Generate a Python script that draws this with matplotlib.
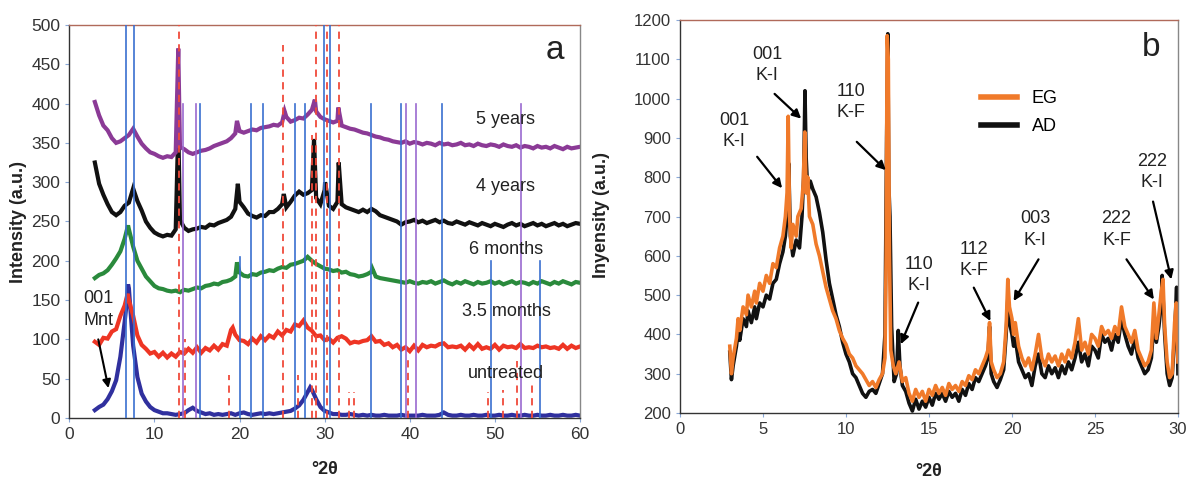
import numpy as np
import matplotlib
matplotlib.use("Agg")
import matplotlib.pyplot as plt

plt.rcParams['font.family'] = ['Liberation Sans', 'DejaVu Sans']

# === panel a : XRD patterns, 3-60 deg 2theta, 0.5 deg steps ===
two_theta_a = np.arange(3.0, 60.01, 0.5)

untreated = [10, 14, 17, 24, 34, 48, 78, 122, 165, 92,
             52, 31, 21, 14, 10, 8, 6, 6, 5, 4,
             5, 6, 10, 13, 9, 7, 5, 6, 4, 5,
             4, 5, 6, 4, 6, 7, 5, 4, 5, 6,
             5, 6, 5, 6, 7, 8, 9, 12, 16, 23,
             33, 36, 24, 14, 9, 7, 5, 5, 4, 4,
             5, 4, 3, 4, 3, 4, 3, 3, 4, 3,
             3, 3, 4, 3, 3, 3, 3, 4, 3, 3,
             3, 4, 7, 4, 3, 3, 4, 3, 3, 4,
             3, 3, 4, 3, 3, 4, 3, 3, 4, 3,
             3, 4, 3, 3, 4, 3, 3, 4, 3, 3,
             4, 3, 3, 4, 3]
months_3_5 = [97, 93, 102, 101, 110, 113, 130, 143, 150, 130,
              105, 93, 88, 82, 84, 78, 83, 77, 82, 78,
              84, 82, 88, 83, 90, 83, 89, 86, 92, 87,
              94, 92, 112, 106, 99, 98, 94, 101, 96, 104,
              99, 105, 102, 110, 105, 112, 110, 119, 117, 124,
              115, 111, 104, 105, 99, 101, 96, 102, 104, 101,
              95, 97, 96, 98, 99, 104, 97, 98, 93, 95,
              90, 93, 87, 90, 85, 92, 86, 93, 90, 92,
              91, 94, 95, 90, 91, 90, 92, 87, 93, 88,
              94, 88, 90, 88, 93, 87, 92, 90, 91, 89,
              94, 89, 90, 89, 92, 90, 91, 89, 90, 88,
              93, 88, 92, 89, 91]
months_6 = [178, 182, 184, 188, 195, 203, 212, 228, 240, 218,
            200, 190, 180, 174, 168, 165, 164, 162, 161, 162,
            160, 163, 162, 164, 166, 165, 168, 169, 171, 170,
            173, 174, 176, 180, 185, 181, 180, 183, 182, 185,
            186, 188, 187, 190, 192, 191, 195, 196, 198, 200,
            205, 200, 196, 193, 190, 189, 187, 188, 185, 186,
            183, 182, 180, 181, 183, 186, 180, 178, 177, 176,
            175, 174, 173, 172, 174, 172, 171, 173, 172, 174,
            171, 173, 175, 172, 170, 173, 171, 174, 172, 170,
            173, 171, 172, 174, 171, 173, 170, 172, 174, 171,
            173, 172, 170, 173, 171, 174, 172, 170, 173, 171,
            174, 172, 170, 173, 172]
years_4 = [325, 298, 284, 272, 262, 258, 262, 270, 274, 292,
           276, 264, 250, 242, 236, 233, 231, 233, 232, 240,
           252, 242, 238, 240, 241, 243, 242, 246, 245, 248,
           250, 252, 256, 266, 275, 268, 260, 257, 255, 258,
           257, 262, 262, 266, 272, 268, 275, 283, 288, 284,
           286, 290, 280, 272, 290, 270, 266, 275, 272, 268,
           266, 264, 262, 265, 262, 266, 263, 258, 256, 254,
           252, 250, 246, 249, 250, 252, 249, 251, 248, 250,
           252, 249, 251, 248, 247, 250, 248, 246, 249, 247,
           245, 248, 246, 244, 247, 245, 243, 246, 248, 245,
           247, 244, 246, 248, 245, 247, 244, 246, 248, 245,
           247, 244, 246, 248, 247]
years_5 = [402, 385, 372, 366, 356, 350, 352, 356, 360, 368,
           358, 349, 343, 338, 336, 333, 331, 333, 332, 338,
           345, 342, 338, 336, 338, 340, 341, 343, 346, 348,
           350, 352, 356, 362, 365, 363, 365, 367, 366, 369,
           370, 371, 373, 372, 376, 383, 377, 379, 382, 381,
           386, 392, 390, 383, 380, 378, 376, 378, 372, 370,
           368, 367, 365, 363, 362, 360, 358, 357, 355, 354,
           352, 351, 350, 352, 349, 351, 350, 348, 350, 349,
           347, 350, 348, 349, 347, 348, 350, 347, 348, 346,
           349, 347, 346, 348, 347, 345, 348, 346, 345, 347,
           344, 346, 345, 343, 346, 344, 345, 343, 346, 344,
           342, 345, 343, 344, 345]

# sharp reflections between grid points (2theta, intensity)
peaks_untreated = [(6.75, 148), (6.9, 170), (7.2, 135), (28.3, 39)]
peaks_3_5 = [(6.85, 158), (19.2, 115)]
peaks_6 = [(6.9, 245), (19.7, 198), (35.6, 190)]
peaks_4y = [(12.8, 370), (19.8, 298), (25.2, 285), (28.75, 355), (30.05, 300), (31.65, 325)]
peaks_5y = [(12.8, 470), (19.7, 378), (25.3, 390), (28.85, 405), (31.6, 395)]

# reference lines (2theta, top)
blue_lines = [(6.65, 500), (7.55, 500), (29.95, 500), (30.6, 500),
              (15.3, 400), (21.35, 400), (22.8, 400), (26.5, 400), (27.7, 400),
              (35.4, 400), (38.95, 400), (43.8, 400),
              (20.05, 205), (49.5, 200), (55.35, 200)]
purple_lines = [(13.3, 400), (14.9, 400), (39.55, 400), (40.75, 400), (53.1, 400)]
red_lines = [(12.9, 500), (25.1, 475), (28.5, 360), (28.95, 500), (30.25, 500), (31.65, 500),
             (13.6, 100), (18.8, 55), (26.9, 55), (32.85, 33), (33.45, 33), (39.85, 75),
             (49.2, 33), (51.0, 35), (52.55, 73), (54.4, 45)]

# === panel b : EG vs AD ===
eg = [(3.0, 370), (3.1, 300), (3.2, 340), (3.4, 390), (3.5, 440), (3.6, 410), (3.8, 470),
      (4.0, 450), (4.1, 500), (4.3, 470), (4.5, 510), (4.6, 480), (4.8, 530), (5.0, 510),
      (5.2, 550), (5.4, 530), (5.6, 580), (5.8, 570), (6.0, 620), (6.2, 650), (6.35, 700),
      (6.45, 760), (6.52, 955), (6.6, 700), (6.7, 620), (6.8, 680), (7.0, 650), (7.1, 700),
      (7.3, 720), (7.42, 780), (7.52, 915), (7.6, 760), (7.7, 800), (7.8, 700), (8.0, 680),
      (8.2, 630), (8.4, 600), (8.6, 560), (8.8, 520), (9.0, 490), (9.2, 460), (9.4, 440),
      (9.6, 410), (9.8, 390), (10.0, 375), (10.2, 350), (10.4, 340), (10.6, 320), (10.8, 310),
      (11.0, 300), (11.2, 285), (11.4, 270), (11.6, 280), (11.8, 265), (12.0, 285), (12.2, 300),
      (12.35, 340), (12.42, 600), (12.48, 1160), (12.55, 1100), (12.62, 600), (12.7, 360),
      (12.85, 320), (13.0, 300), (13.2, 330), (13.4, 280), (13.6, 290), (13.8, 250), (14.0, 230),
      (14.2, 260), (14.4, 240), (14.6, 255), (14.8, 230), (15.0, 260), (15.2, 245), (15.4, 270),
      (15.6, 250), (15.8, 265), (16.0, 245), (16.2, 275), (16.4, 260), (16.6, 270), (16.8, 255),
      (17.0, 280), (17.2, 270), (17.4, 295), (17.6, 285), (17.8, 310), (18.0, 300), (18.2, 320),
      (18.4, 340), (18.55, 360), (18.65, 430), (18.75, 330), (18.9, 310), (19.1, 290),
      (19.3, 300), (19.5, 330), (19.65, 420), (19.75, 540), (19.85, 470), (20.0, 440),
      (20.1, 400), (20.2, 430), (20.4, 370), (20.6, 340), (20.8, 320), (21.0, 340), (21.2, 310),
      (21.4, 350), (21.6, 400), (21.8, 340), (22.0, 320), (22.2, 350), (22.4, 330), (22.6, 345),
      (22.8, 320), (23.0, 350), (23.2, 330), (23.4, 360), (23.6, 340), (23.8, 380), (24.0, 440),
      (24.2, 360), (24.4, 380), (24.6, 350), (24.8, 400), (25.0, 390), (25.2, 370), (25.4, 420),
      (25.6, 400), (25.8, 410), (26.0, 390), (26.2, 420), (26.4, 400), (26.6, 470), (26.8, 420),
      (27.0, 400), (27.2, 380), (27.4, 410), (27.6, 360), (27.8, 340), (28.0, 320), (28.2, 330),
      (28.4, 360), (28.55, 480), (28.7, 390), (28.85, 450), (29.0, 510), (29.1, 540), (29.2, 420),
      (29.35, 330), (29.5, 290), (29.65, 300), (29.8, 430), (29.9, 480), (30.0, 330)]
ad = [(3.0, 355), (3.1, 285), (3.2, 320), (3.4, 370), (3.5, 405), (3.6, 385), (3.8, 440),
      (4.0, 420), (4.1, 460), (4.3, 430), (4.5, 470), (4.6, 440), (4.8, 480), (5.0, 470),
      (5.2, 500), (5.4, 490), (5.6, 530), (5.8, 540), (6.0, 580), (6.2, 610), (6.35, 650),
      (6.45, 700), (6.55, 835), (6.65, 650), (6.8, 600), (7.0, 640), (7.2, 620), (7.35, 700),
      (7.45, 800), (7.53, 1020), (7.6, 850), (7.7, 760), (7.85, 790), (8.0, 770), (8.2, 750),
      (8.4, 710), (8.6, 660), (8.8, 590), (9.0, 530), (9.2, 490), (9.4, 450), (9.6, 420),
      (9.8, 380), (10.0, 350), (10.2, 330), (10.4, 300), (10.6, 290), (10.8, 270), (11.0, 250),
      (11.2, 240), (11.4, 255), (11.6, 260), (11.8, 250), (12.0, 275), (12.2, 300), (12.35, 400),
      (12.45, 900), (12.52, 1165), (12.58, 780), (12.65, 700), (12.75, 420), (12.9, 280),
      (13.05, 300), (13.15, 410), (13.25, 320), (13.4, 270), (13.6, 255), (13.8, 225),
      (14.0, 205), (14.2, 235), (14.4, 210), (14.6, 230), (14.8, 215), (15.0, 240), (15.2, 220),
      (15.4, 250), (15.6, 235), (15.8, 250), (16.0, 230), (16.2, 255), (16.4, 240), (16.6, 250),
      (16.8, 230), (17.0, 260), (17.2, 245), (17.4, 275), (17.6, 260), (17.8, 290), (18.0, 280),
      (18.2, 300), (18.4, 320), (18.55, 340), (18.65, 420), (18.75, 300), (18.9, 280),
      (19.1, 265), (19.3, 285), (19.5, 310), (19.65, 400), (19.75, 490), (19.85, 430),
      (20.0, 400), (20.1, 370), (20.2, 390), (20.4, 330), (20.6, 310), (20.8, 290), (21.0, 300),
      (21.2, 270), (21.4, 320), (21.6, 350), (21.8, 300), (22.0, 290), (22.2, 320), (22.4, 300),
      (22.6, 315), (22.8, 290), (23.0, 320), (23.2, 300), (23.4, 330), (23.6, 310), (23.8, 340),
      (24.0, 380), (24.2, 330), (24.4, 350), (24.6, 320), (24.8, 370), (25.0, 360), (25.2, 340),
      (25.4, 400), (25.6, 380), (25.8, 390), (26.0, 360), (26.2, 400), (26.4, 380), (26.6, 440),
      (26.8, 400), (27.0, 370), (27.2, 350), (27.4, 390), (27.6, 340), (27.8, 320), (28.0, 300),
      (28.2, 310), (28.4, 340), (28.55, 430), (28.7, 380), (28.85, 420), (29.0, 480),
      (29.05, 550), (29.2, 400), (29.35, 300), (29.5, 270), (29.65, 290), (29.8, 400),
      (29.92, 520), (30.0, 300)]

# (label, text centre, arrow tail, arrow head)
b_notes = [("001\nK-I", (3.25, 918), (4.65, 852), (6.15, 772)),
           ("001\nK-I", (5.25, 1085), (5.7, 1012), (7.3, 949)),
           ("110\nK-F", (10.3, 991), (10.65, 890), (12.4, 818)),
           ("110\nK-I", (14.4, 551), (14.35, 481), (13.3, 375)),
           ("112\nK-F", (17.7, 589), (17.7, 519), (18.7, 434)),
           ("003\nK-I", (21.4, 667), (21.6, 591), (20.1, 485)),
           ("222\nK-F", (26.3, 667), (26.9, 591), (28.55, 489)),
           ("222\nK-I", (28.45, 813), (28.5, 738), (29.6, 540))]


def merge(base, extra):
    x = np.concatenate([two_theta_a, [p[0] for p in extra]])
    y = np.concatenate([base, [p[1] for p in extra]])
    order = np.argsort(x)
    return x[order], y[order]


def style_axes(ax):
    ax.spines['left'].set_color('#333333')
    ax.spines['bottom'].set_color('#333333')
    ax.spines['top'].set_color('#b06a5a')
    ax.spines['right'].set_color('#888888')
    for s in ax.spines.values():
        s.set_linewidth(1.0)
    ax.tick_params(direction='out', length=3, width=0.8, color='#8aa8d8',
                   labelsize=12.5, labelcolor='#333333')


fig = plt.figure(figsize=(11.89, 4.83), dpi=100)

# ---------------- panel a ----------------
ax1 = fig.add_axes([0.0583, 0.1346, 0.4295, 0.8137])
series = [(untreated, peaks_untreated, '#30309e'),
          (months_3_5, peaks_3_5, '#ee3524'),
          (months_6, peaks_6, '#2a8a3c'),
          (years_4, peaks_4y, '#111111'),
          (years_5, peaks_5y, '#8b3a96')]
for vals, extra, col in series:
    x, y = merge(vals, extra)
    ax1.plot(x, y, color=col, lw=3.0, zorder=2, solid_joinstyle='miter')

for xv, top in blue_lines:
    ax1.plot([xv, xv], [0, top], color='#3a6fd0', lw=1.2, zorder=3)
for xv, top in purple_lines:
    ax1.plot([xv, xv], [0, top], color='#9a6ad0', lw=1.2, zorder=3)
for xv, top in red_lines:
    ax1.plot([xv, xv], [0, top], color='#f04a3a', lw=1.3, ls=(0, (4, 3)), zorder=3)

ax1.set_xlim(0, 60)
ax1.set_ylim(0, 500)
ax1.set_xticks(range(0, 61, 10))
ax1.set_yticks(range(0, 501, 50))
style_axes(ax1)

for txt, yv in [("5 years", 380), ("4 years", 295), ("6 months", 214),
                ("3.5 months", 136), ("untreated", 56)]:
    ax1.text(51.3, yv, txt, fontsize=13, ha='center', va='center', color='#222222', zorder=4)
ax1.text(57.1, 468, "a", fontsize=24, ha='center', va='center', color='#222222')
ax1.text(3.4, 138, "001\nMnt", fontsize=13, ha='center', va='center', linespacing=1.35,
         color='#222222', zorder=4)
ax1.annotate("", xy=(4.6, 38), xytext=(3.4, 100),
             arrowprops=dict(arrowstyle='-|>', color='k', lw=1.5, mutation_scale=12,
                             shrinkA=0, shrinkB=0), zorder=5)
fig.text(19 / 1189, 1 - 222 / 483, "Intensity (a.u.)", rotation=90, fontsize=13,
         fontweight='bold', ha='center', va='center', color='#222222')
fig.text(325 / 1189, 1 - 470 / 483, "°2θ", fontsize=13, fontweight='bold',
         ha='center', va='center', color='#222222')

# ---------------- panel b ----------------
ax2 = fig.add_axes([0.5719, 0.1449, 0.4188, 0.8137])
l_ad, = ax2.plot([p[0] for p in ad], [p[1] for p in ad], color='#111111', lw=2.6, label='AD')
l_eg, = ax2.plot([p[0] for p in eg], [p[1] for p in eg], color='#f07a2a', lw=2.6, label='EG')
ax2.set_xlim(0, 30)
ax2.set_ylim(200, 1200)
ax2.set_xticks(range(0, 31, 5))
ax2.set_yticks(range(200, 1201, 100))
style_axes(ax2)
ax2.tick_params(labelsize=12)

for lab, tpos, tail, head in b_notes:
    ax2.text(tpos[0], tpos[1], lab, fontsize=13, ha='center', va='center',
             linespacing=1.35, color='#222222')
    ax2.annotate("", xy=head, xytext=tail,
                 arrowprops=dict(arrowstyle='-|>', color='k', lw=1.6, mutation_scale=13,
                                 shrinkA=0, shrinkB=0))
ax2.text(28.4, 1129, "b", fontsize=24, ha='center', va='center', color='#222222')

leg = ax2.legend(handles=[l_eg, l_ad], loc='upper left', bbox_to_anchor=(0.59, 0.84),
                 frameon=False, fontsize=13, handlelength=2.0, handletextpad=0.8,
                 labelspacing=0.6, borderaxespad=0)
for h in leg.get_lines():
    h.set_linewidth(4)

fig.text(601 / 1189, 1 - 215 / 483, "Inyensity (a.u.)", rotation=90, fontsize=13,
         fontweight='bold', ha='center', va='center', color='#222222')
fig.text(929 / 1189, 1 - 472 / 483, "°2θ", fontsize=13, fontweight='bold',
         ha='center', va='center', color='#222222')

fig.savefig("out.png", dpi=100)
